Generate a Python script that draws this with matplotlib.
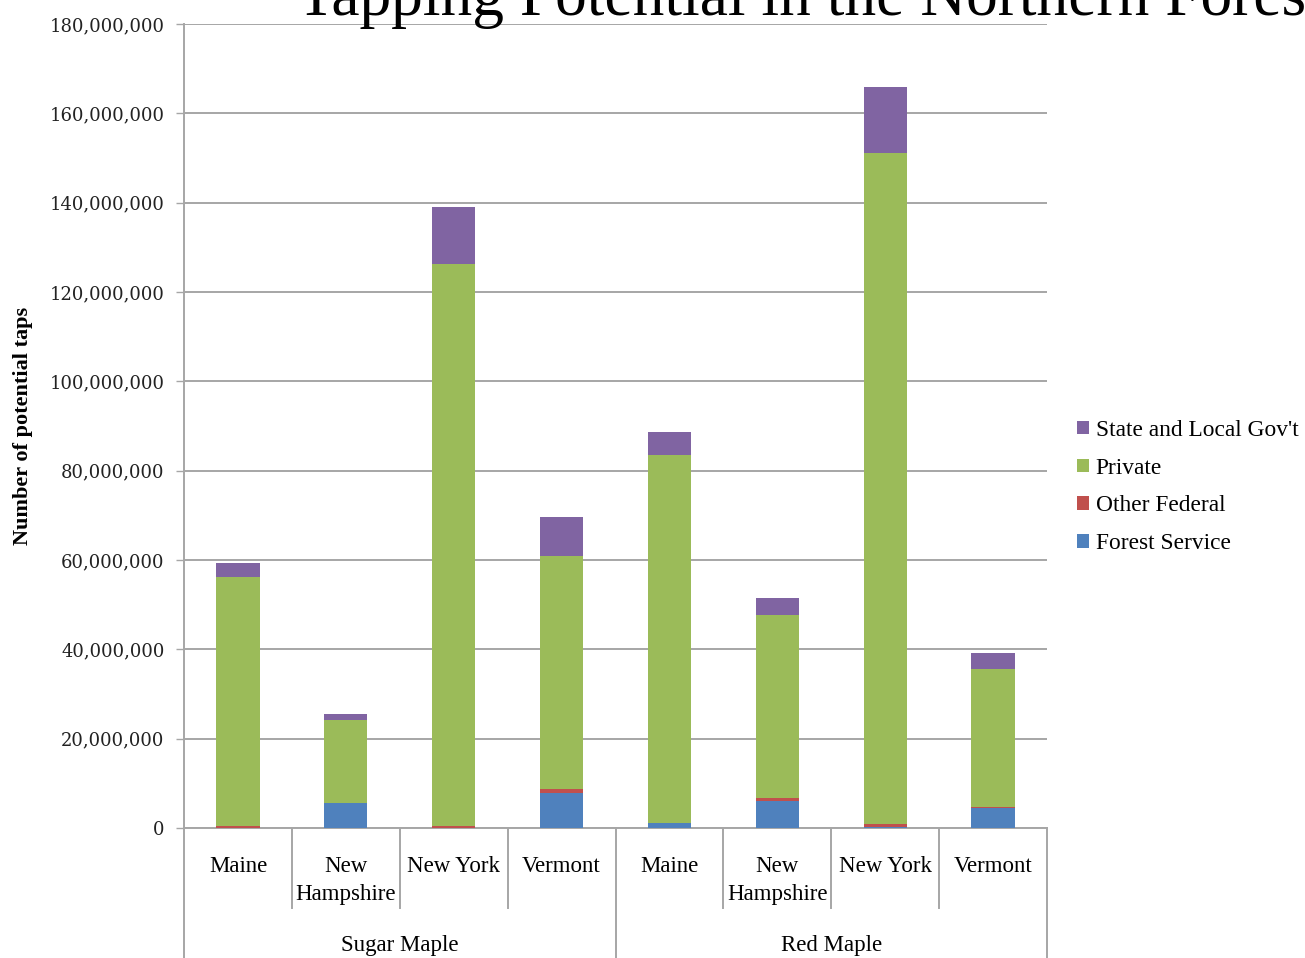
import matplotlib
matplotlib.use("Agg")
import matplotlib.pyplot as plt
from matplotlib.lines import Line2D
import numpy as np

# Potential taps (millions) by ownership class
species = ["Sugar Maple", "Red Maple"]
states = ["Maine", "New\nHampshire", "New York", "Vermont"]
forest_service = [0.1, 5.6, 0.1, 7.8, 1.1, 6.0, 0.2, 4.4]
other_federal = [0.3, 0.1, 0.3, 0.9, 0.1, 0.7, 0.8, 0.3]
private = [55.8, 18.5, 125.9, 52.2, 82.3, 41.0, 150.1, 30.9]
state_local = [3.1, 1.3, 12.7, 8.7, 5.2, 3.8, 14.8, 3.6]

series = [
    ("Forest Service", forest_service, "#4F81BD"),
    ("Other Federal", other_federal, "#C0504D"),
    ("Private", private, "#9BBB59"),
    ("State and Local Gov't", state_local, "#8064A2"),
]

serif = ["Liberation Serif", "DejaVu Serif"]

fig = plt.figure(figsize=(13.05, 9.58), dpi=100)
ax = fig.add_axes([184 / 1305, 130 / 958, 863 / 1305, 804 / 958])

n = len(species) * len(states)
x = np.arange(n)
bottom = np.zeros(n)
handles = {}
for name, vals, color in series:
    v = np.array(vals) * 1e6
    b = ax.bar(x, v, width=0.4, bottom=bottom, color=color, label=name, zorder=3)
    handles[name] = b
    bottom += v

ax.set_xlim(-0.5, n - 0.5)
ax.set_ylim(0, 180e6)
ticks = np.arange(0, 180e6 + 1, 20e6)
ax.set_yticks(ticks)
ax.set_yticklabels([f"{int(t):,}" for t in ticks],
                   family=["DejaVu Serif"], fontsize=13, color="#222222")
ax.yaxis.grid(True, color="#A6A6A6", linewidth=1.4, zorder=0)
ax.tick_params(axis="y", length=6, width=1, color="#A6A6A6", pad=8)
for side in ["top", "right"]:
    ax.spines[side].set_visible(False)
for side in ["left", "bottom"]:
    ax.spines[side].set_color("#A6A6A6")
    ax.spines[side].set_linewidth(1.4)

ax.set_xticks(x)
ax.set_xticklabels(states * len(species), family=serif, fontsize=16.5,
                   linespacing=1.45)
ax.tick_params(axis="x", length=0, pad=20)

ax.set_ylabel("Number of potential taps", family=serif, fontweight="bold",
              fontsize=16, labelpad=12)

# Hierarchical category dividers below the axis
trans = ax.get_xaxis_transform()
inner_y = -80 / 804
outer_y = -130 / 804
for i in range(n + 1):
    xb = i - 0.5
    is_group = (i % len(states) == 0)
    y_end = outer_y if is_group else inner_y
    ax.add_line(Line2D([xb, xb], [0, y_end], transform=trans, color="#A6A6A6",
                       linewidth=1.4, clip_on=False))
for g, name in enumerate(species):
    xc = g * len(states) + (len(states) - 1) / 2
    ax.text(xc, -117 / 804, name, transform=trans, ha="center", va="center",
            family=serif, fontsize=16.5)

# Legend (top entry first)
order = ["State and Local Gov't", "Private", "Other Federal", "Forest Service"]
fig.legend([handles[k] for k in order], order, loc="center left",
           bbox_to_anchor=(1077 / 1305, 1 - 487 / 958), frameon=False,
           prop={"family": serif, "size": 16.8}, handlelength=0.5,
           handleheight=0.5, handletextpad=0.3, labelspacing=0.72,
           borderaxespad=0, borderpad=0)

fig.text(297 / 1305, 1 - 15 / 958, "Tapping Potential in the Northern Forest",
         ha="left", va="baseline", family=serif, fontsize=45.6)

fig.savefig("out.png", dpi=100)
